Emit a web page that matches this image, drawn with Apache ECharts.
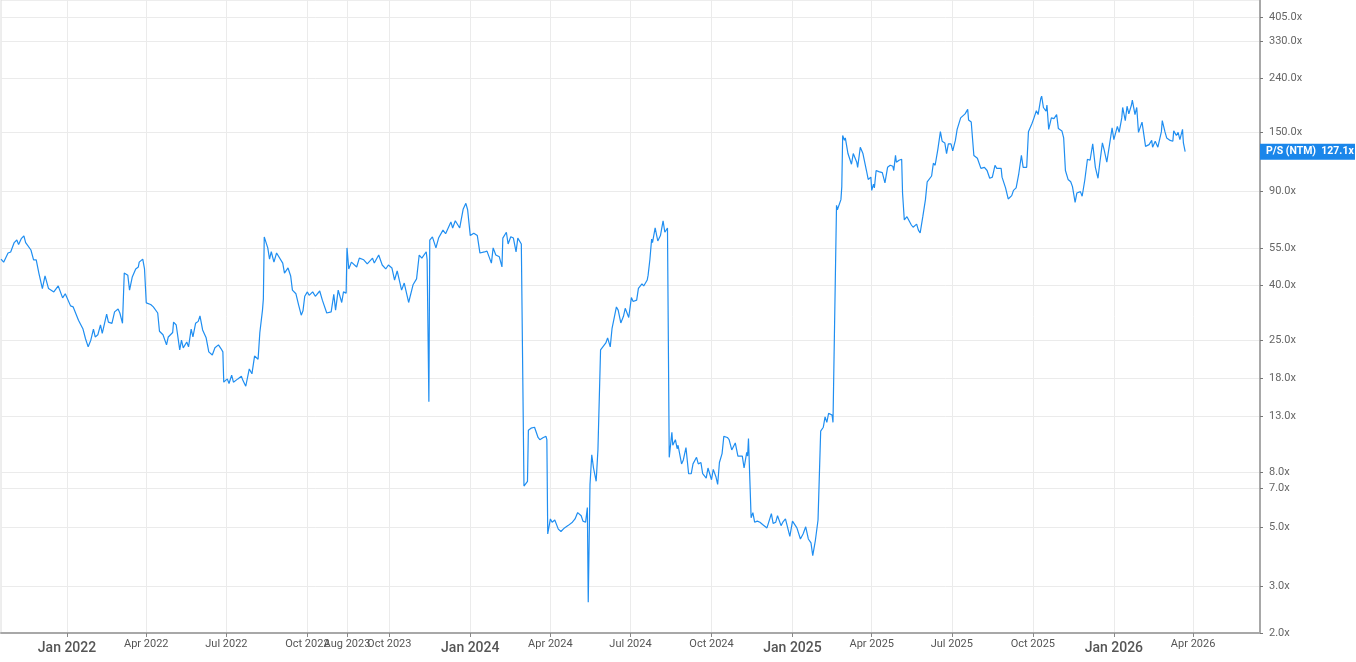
<!DOCTYPE html>
<html>
<head>
<meta charset="utf-8">
<title>P/S (NTM)</title>
<script src="https://cdn.jsdelivr.net/npm/echarts@6.0.0/dist/echarts.min.js"></script>
<style>
    html, body { margin: 0; padding: 0; background: #fff; }
    #chart { width: 1356px; height: 662px; }
</style>
</head>
<body>
<div id="chart"></div>
<script>
// price / sales (next twelve months), daily closes
const dates = [
    "2021-10-18", "2021-10-21", "2021-10-26", "2021-10-29", "2021-11-02", "2021-11-05", "2021-11-07", "2021-11-10",
    "2021-11-13", "2021-11-15", "2021-11-21", "2021-11-24", "2021-11-27", "2021-11-30", "2021-12-04", "2021-12-07",
    "2021-12-11", "2021-12-17", "2021-12-22", "2021-12-27", "2021-12-30", "2022-01-05", "2022-01-08", "2022-01-14",
    "2022-01-19", "2022-01-22", "2022-01-25", "2022-01-28", "2022-01-31", "2022-02-02", "2022-02-05", "2022-02-08",
    "2022-02-10", "2022-02-15", "2022-02-17", "2022-02-21", "2022-02-24", "2022-02-28", "2022-03-02", "2022-03-05",
    "2022-03-07", "2022-03-11", "2022-03-13", "2022-03-16", "2022-03-20", "2022-03-23", "2022-03-24", "2022-03-28",
    "2022-03-30", "2022-04-01", "2022-04-06", "2022-04-09", "2022-04-14", "2022-04-16", "2022-04-20", "2022-04-24",
    "2022-04-26", "2022-05-01", "2022-05-02", "2022-05-05", "2022-05-09", "2022-05-11", "2022-05-13", "2022-05-17",
    "2022-05-19", "2022-05-22", "2022-05-24", "2022-05-27", "2022-05-30", "2022-06-01", "2022-06-04", "2022-06-08",
    "2022-06-11", "2022-06-13", "2022-06-15", "2022-06-18", "2022-06-22", "2022-06-25", "2022-06-27", "2022-06-28",
    "2022-07-02", "2022-07-04", "2022-07-07", "2022-07-09", "2022-07-14", "2022-07-18", "2022-07-20", "2022-07-23",
    "2022-07-27", "2022-07-30", "2022-08-02", "2022-08-06", "2022-08-08", "2022-08-11", "2022-08-12", "2022-08-13",
    "2022-08-17", "2022-08-19", "2022-08-21", "2022-08-24", "2022-08-27", "2022-08-29", "2022-09-03", "2022-09-05",
    "2022-09-09", "2022-09-12", "2022-09-14", "2022-09-18", "2022-09-21", "2022-09-24", "2022-09-26", "2022-09-28",
    "2022-10-01", "2022-10-03", "2022-10-07", "2022-10-10", "2022-10-15", "2022-10-18", "2022-10-23", "2022-10-28",
    "2022-10-31", "2022-11-02", "2022-11-05", "2022-11-09", "2022-11-11", "2022-11-14",
    "2023-08-14", "2023-08-16", "2023-08-19", "2023-08-21", "2023-08-25", "2023-08-28", "2023-09-02", "2023-09-06",
    "2023-09-12", "2023-09-14", "2023-09-19", "2023-09-23", "2023-09-27", "2023-09-30", "2023-10-04", "2023-10-07",
    "2023-10-10", "2023-10-15", "2023-10-18", "2023-10-23", "2023-10-28", "2023-11-01", "2023-11-04", "2023-11-07",
    "2023-11-12", "2023-11-13", "2023-11-15", "2023-11-16", "2023-11-19", "2023-11-23", "2023-11-26", "2023-12-01",
    "2023-12-04", "2023-12-10", "2023-12-12", "2023-12-15", "2023-12-20", "2023-12-24", "2023-12-27", "2023-12-29",
    "2024-01-01", "2024-01-05", "2024-01-09", "2024-01-12", "2024-01-17", "2024-01-20", "2024-01-25", "2024-01-27",
    "2024-01-30", "2024-02-03", "2024-02-06", "2024-02-07", "2024-02-11", "2024-02-13", "2024-02-16", "2024-02-19",
    "2024-02-22", "2024-02-24", "2024-02-28", "2024-03-01", "2024-03-02", "2024-03-06", "2024-03-07", "2024-03-10",
    "2024-03-14", "2024-03-18", "2024-03-20", "2024-03-24", "2024-03-27", "2024-03-28", "2024-03-29", "2024-04-01",
    "2024-04-03", "2024-04-06", "2024-04-10", "2024-04-13", "2024-04-17", "2024-04-21", "2024-04-26", "2024-04-29",
    "2024-05-02", "2024-05-06", "2024-05-08", "2024-05-11", "2024-05-13", "2024-05-14", "2024-05-16", "2024-05-18",
    "2024-05-20", "2024-05-23", "2024-05-25", "2024-05-28", "2024-05-30", "2024-06-03", "2024-06-05", "2024-06-08",
    "2024-06-10", "2024-06-12", "2024-06-15", "2024-06-17", "2024-06-20", "2024-06-23", "2024-06-25", "2024-06-29",
    "2024-07-02", "2024-07-04", "2024-07-08", "2024-07-10", "2024-07-14", "2024-07-16", "2024-07-20", "2024-07-21",
    "2024-07-23", "2024-07-25", "2024-07-26", "2024-07-29", "2024-08-01", "2024-08-04", "2024-08-07", "2024-08-09",
    "2024-08-12", "2024-08-14", "2024-08-17", "2024-08-18", "2024-08-21", "2024-08-23", "2024-08-24", "2024-08-28",
    "2024-08-30", "2024-09-02", "2024-09-05", "2024-09-08", "2024-09-10", "2024-09-14", "2024-09-16", "2024-09-19",
    "2024-09-21", "2024-09-25", "2024-09-27", "2024-10-01", "2024-10-03", "2024-10-06", "2024-10-08", "2024-10-10",
    "2024-10-13", "2024-10-15", "2024-10-19", "2024-10-21", "2024-10-24", "2024-10-28", "2024-10-31", "2024-11-05",
    "2024-11-07", "2024-11-10", "2024-11-11", "2024-11-12", "2024-11-15", "2024-11-17", "2024-11-19", "2024-11-22",
    "2024-11-25", "2024-11-28", "2024-12-03", "2024-12-08", "2024-12-10", "2024-12-13", "2024-12-15", "2024-12-19",
    "2024-12-21", "2024-12-24", "2024-12-29", "2025-01-01", "2025-01-06", "2025-01-10", "2025-01-13", "2025-01-16",
    "2025-01-19", "2025-01-22", "2025-01-24", "2025-01-27", "2025-01-30", "2025-02-02", "2025-02-05", "2025-02-07",
    "2025-02-09", "2025-02-11", "2025-02-15", "2025-02-16", "2025-02-18", "2025-02-20", "2025-02-21", "2025-02-25",
    "2025-02-26", "2025-02-27", "2025-03-01", "2025-03-02", "2025-03-05", "2025-03-09", "2025-03-11", "2025-03-15",
    "2025-03-16", "2025-03-19", "2025-03-22", "2025-03-26", "2025-03-28", "2025-03-31", "2025-04-01", "2025-04-03",
    "2025-04-04", "2025-04-06", "2025-04-09", "2025-04-13", "2025-04-16", "2025-04-19", "2025-04-22", "2025-04-25",
    "2025-04-26", "2025-04-28", "2025-04-29", "2025-05-02", "2025-05-05", "2025-05-06", "2025-05-08", "2025-05-11",
    "2025-05-13", "2025-05-16", "2025-05-18", "2025-05-22", "2025-05-24", "2025-05-26", "2025-05-29", "2025-06-01",
    "2025-06-03", "2025-06-08", "2025-06-10", "2025-06-12", "2025-06-15", "2025-06-18", "2025-06-20", "2025-06-23",
    "2025-06-25", "2025-06-27", "2025-06-30", "2025-07-02", "2025-07-05", "2025-07-07", "2025-07-11", "2025-07-13",
    "2025-07-16", "2025-07-19", "2025-07-20", "2025-07-23", "2025-07-25", "2025-07-26", "2025-07-30", "2025-08-03",
    "2025-08-07", "2025-08-10", "2025-08-13", "2025-08-16", "2025-08-19", "2025-08-21", "2025-08-26", "2025-08-27",
    "2025-08-31", "2025-09-01", "2025-09-03", "2025-09-07", "2025-09-09", "2025-09-12", "2025-09-15", "2025-09-18",
    "2025-09-20", "2025-09-24", "2025-09-26", "2025-09-30", "2025-10-02", "2025-10-05", "2025-10-07", "2025-10-10",
    "2025-10-11", "2025-10-13", "2025-10-16", "2025-10-17", "2025-10-19", "2025-10-22", "2025-10-25", "2025-10-28",
    "2025-10-30", "2025-11-03", "2025-11-05", "2025-11-07", "2025-11-10", "2025-11-13", "2025-11-15", "2025-11-18",
    "2025-11-20", "2025-11-24", "2025-11-26", "2025-11-29", "2025-12-02", "2025-12-05", "2025-12-08", "2025-12-11",
    "2025-12-14", "2025-12-16", "2025-12-19", "2025-12-21", "2025-12-24", "2025-12-26", "2025-12-30", "2026-01-01",
    "2026-01-05", "2026-01-07", "2026-01-10", "2026-01-11", "2026-01-14", "2026-01-16", "2026-01-18", "2026-01-21",
    "2026-01-22", "2026-01-25", "2026-01-27", "2026-01-29", "2026-02-02", "2026-02-04", "2026-02-06", "2026-02-10",
    "2026-02-13", "2026-02-14", "2026-02-17", "2026-02-20", "2026-02-21", "2026-02-24", "2026-02-25", "2026-02-28",
    "2026-03-02", "2026-03-06", "2026-03-09", "2026-03-10", "2026-03-13", "2026-03-15", "2026-03-17", "2026-03-19",
    "2026-03-20", "2026-03-21", "2026-03-23"
];

const psValues = [
    50.3, 49, 53, 53.5, 58, 59.3, 57, 60,
    61.5, 58, 54.4, 50, 50, 44.6, 39, 43.5,
    39, 37.9, 39.9, 36, 37.3, 33.6, 33.3, 29.7,
    27.6, 25.3, 23.6, 25, 27.5, 25.7, 26.2, 28.5,
    26.5, 31.3, 29.2, 28.9, 31.9, 32.7, 31.6, 28.9,
    44.6, 43.8, 38.5, 43, 46.2, 47, 49, 50.3,
    46.2, 34.5, 34, 33.3, 31.6, 27, 26.2, 24,
    25.7, 26.7, 29.2, 28.5, 23, 25, 23.4, 24.6,
    23.6, 27.5, 25.7, 28.9, 29.4, 30.8, 27.3, 25.5,
    22.6, 22.8, 22, 23.4, 24, 23.2, 22.6, 17.4,
    17.9, 17.2, 18.5, 17.4, 17.9, 18.3, 17.6, 16.8,
    19.5, 18.7, 21.8, 21.2, 26.7, 32.4, 35.7, 60.9,
    55.4, 50.3, 53.6, 49, 53, 52.5, 48.6, 44.6,
    46.6, 43.5, 38.5, 37.3, 33.9, 31, 32.2, 36.5,
    37.9, 36.8, 37.9, 36.5, 38.2, 35.3, 31.6, 31.9,
    37.1, 32.4, 38.5, 34.6, 37.9, 37.5,
    55.4, 46.2, 49, 48.6, 47, 50.7, 50, 48.3,
    50.7, 48.6, 52.1, 47.8, 46.2, 47.8, 46.6, 42,
    45.4, 38.5, 40.9, 34.6, 40.3, 42.4, 52.1, 50.7,
    53.6, 50, 14.7, 59.3, 60.9, 55.4, 60.3, 64.6,
    62.6, 69.3, 65.8, 70, 65.8, 77.5, 81.4, 77,
    61.6, 62.9, 61.6, 53, 53.5, 53.9, 48.6, 55.4,
    52.1, 51.3, 47, 60.3, 63.4, 57.3, 61, 60.3,
    53.5, 60.3, 57.3, 57, 7.1, 7.4, 11.5, 11.7,
    11.8, 10.8, 10.6, 10.8, 10.9, 10.6, 4.7, 5.35,
    5.2, 5.3, 4.9, 4.8, 4.95, 5.05, 5.2, 5.35,
    5.65, 5.5, 5.25, 5.2, 5.9, 2.61, 7.2, 9.3,
    8.3, 7.4, 9.7, 23, 23.4, 24.4, 25.5, 23.6,
    27.6, 27.9, 33.3, 32.4, 29, 30.7, 32.9, 30.4,
    36.1, 34.9, 35.3, 39.1, 40.6, 39.9, 42, 43.8,
    50, 59.8, 58, 65.8, 58.8, 61.6, 70, 63.4,
    65.8, 9.1, 11.3, 10.1, 10.6, 9.8, 10.1, 8.6,
    8.9, 9.9, 7.9, 7.9, 8.6, 9.1, 8.6, 8.7,
    7.9, 7.6, 8.3, 7.5, 8.2, 7.7, 7.2, 8.7,
    9.4, 10.9, 10.8, 10.6, 9.7, 10.3, 9.2, 9.2,
    8.3, 9.5, 9.2, 10.7, 5.4, 5.65, 5.2, 5.25,
    5.2, 5.1, 4.95, 5.6, 5.15, 5.2, 5.5, 5.05,
    5.2, 5.35, 4.6, 5.25, 4.95, 4.5, 4.7, 5,
    4.5, 4.35, 3.9, 4.45, 5.3, 11.4, 11.8, 12.9,
    12.3, 13.3, 13.1, 12.3, 12.5, 80, 77, 84,
    94, 146, 140, 143, 125, 114, 125, 116,
    111, 132, 125, 108, 100, 102, 91, 96,
    93, 108, 107, 106, 97, 111, 113, 112,
    108, 123, 116, 118, 119, 89, 70.5, 72.5,
    72.5, 67.5, 66.2, 68, 64.6, 63, 72.5, 84,
    98, 103, 115, 113, 129, 151, 139, 137,
    125, 136, 136, 128, 140, 154, 170, 171,
    176, 183, 167, 164, 164, 123, 120, 110,
    111, 108, 101, 102, 113, 110, 110, 102,
    93, 94, 84.5, 87, 91, 93, 105, 123,
    111, 111, 151, 162, 169, 181, 175, 201,
    205, 186, 180, 190, 154, 170, 169, 175,
    155, 152, 143, 108, 100, 98, 94, 82,
    89, 90, 86.5, 99.5, 119, 118, 136, 111,
    101, 115, 137, 129, 116, 118, 156, 141,
    158, 150, 170, 186, 166, 188, 176, 190,
    198, 175, 186, 150, 164, 165, 133, 135,
    140, 132, 139, 132, 130, 151, 166, 151,
    143, 140, 139, 152, 146, 150, 141, 140,
    154, 137, 127.1
];

// the source has no data between these two days; the axis closes the hole
const gapStart = "2022-11-15";
const gapEnd = "2023-08-14";

const xTickDates = [
    "2022-01-01", "2022-04-01", "2022-07-01", "2022-10-01", "2023-08-14", "2023-10-01", "2024-01-01", "2024-04-01",
    "2024-07-01", "2024-10-01", "2025-01-01", "2025-04-01", "2025-07-01", "2025-10-01", "2026-01-01", "2026-04-01"
];
const xTickLabels = [
    "Jan 2022", "Apr 2022", "Jul 2022", "Oct 2022", "Aug 2023", "Oct 2023", "Jan 2024", "Apr 2024",
    "Jul 2024", "Oct 2024", "Jan 2025", "Apr 2025", "Jul 2025", "Oct 2025", "Jan 2026", "Apr 2026"
];
const yTicks = [2, 3, 5, 7, 8, 13, 18, 25, 40, 55, 90, 150, 240, 330, 405];

const seriesName = "P/S (NTM)";

function axisDay(s) {
    let day = Date.parse(s) / 86400000;
    let a = Date.parse(gapStart) / 86400000;
    let b = Date.parse(gapEnd) / 86400000;
    return day >= b ? day - (b - a) : day;
}

let xTickDays = xTickDates.map(axisDay);
let labelByDay = {};
xTickDays.forEach((d, i) => labelByDay[d] = xTickLabels[i]);

let lastValue = psValues[psValues.length - 1];

let chart = echarts.init(document.getElementById("chart"));
let option = {
    animation: false,
    backgroundColor: "#fff",
    grid: {
        left: 1,
        right: 96,
        top: 0,
        bottom: 29,
        show: true,
        borderColor: "#dcdcdc",
        borderWidth: 1,
        outerBoundsMode: "none"
    },
    tooltip: {
        trigger: "axis",
        formatter: function (params) {
            let p = params[0];
            return dates[p.dataIndex] + "<br>" + seriesName + ": " + p.value[1] + "x";
        }
    },
    xAxis: {
        type: "value",
        min: axisDay("2021-10-18"),
        max: axisDay("2026-06-16"),
        axisLine: {
            onZero: false,
            lineStyle: { color: "#a8a8a8", width: 2 }
        },
        axisTick: {
            customValues: xTickDays,
            length: 4,
            lineStyle: { color: "#888" }
        },
        axisLabel: {
            customValues: xTickDays,
            margin: 6,
            formatter: function (value) {
                let text = labelByDay[value] || "";
                return text.indexOf("Jan") === 0 ? "{big|" + text + "}" : "{small|" + text + "}";
            },
            rich: {
                big: {
                    fontFamily: "Roboto, sans-serif",
                    fontSize: 14,
                    fontWeight: 500,
                    color: "#555",
                    padding: [2, 0, 0, 0]
                },
                small: {
                    fontFamily: "Roboto, sans-serif",
                    fontSize: 11,
                    color: "#555"
                }
            }
        },
        splitLine: {
            show: true,
            lineStyle: { color: "#ebebeb" }
        }
    },
    yAxis: {
        type: "log",
        logBase: 10,
        position: "right",
        min: 2,
        max: 470,
        axisLine: {
            show: true,
            lineStyle: { color: "#a8a8a8", width: 2 }
        },
        axisTick: {
            show: true,
            customValues: yTicks,
            length: 3,
            lineStyle: { color: "#777" }
        },
        axisLabel: {
            customValues: yTicks,
            margin: 9,
            color: "#666",
            fontSize: 11,
            fontFamily: "Roboto, sans-serif",
            formatter: function (value) {
                return Number(value).toFixed(1) + "x";
            }
        },
        splitLine: {
            show: true,
            lineStyle: { color: "#ebebeb" }
        }
    },
    series: [
        {
            name: seriesName,
            type: "line",
            clip: false,
            data: dates.map((d, i) => [axisDay(d), psValues[i]]),
            showSymbol: false,
            lineStyle: { color: "#1f8ef1", width: 1.2 },
            itemStyle: { color: "#1f8ef1" },
            markLine: {
                silent: true,
                symbol: "none",
                lineStyle: { color: "rgba(0,0,0,0)", width: 0, type: "solid" },
                label: {
                    show: true,
                    position: "end",
                    distance: 0,
                    formatter: seriesName + "  " + lastValue.toFixed(1) + "x",
                    backgroundColor: "#1a86ea",
                    color: "#fff",
                    fontWeight: "bold",
                    fontSize: 10.5,
                    fontFamily: "Roboto, sans-serif",
                    width: 84,
                    padding: [3, 5, 2, 6]
                },
                data: [{ yAxis: lastValue }]
            }
        }
    ]
};
chart.setOption(option);
</script>
</body>
</html>
